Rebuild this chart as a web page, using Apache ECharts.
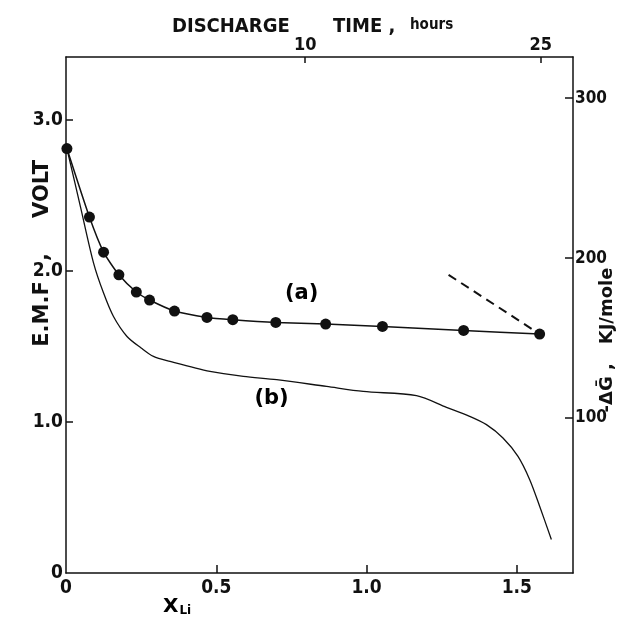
<!DOCTYPE html>
<html>
<head>
<meta charset="utf-8">
<script src="https://cdn.jsdelivr.net/npm/echarts@6/dist/echarts.min.js"></script>
<style>
html,body{margin:0;padding:0;background:#fff;}
#chart{width:629px;height:627px;}
</style>
</head>
<body>
<div id="chart"></div>
<script>
// ---- data ----
// curve (a): measured points, x = X_Li, y = E.M.F (V)
const curveAx = [0.003, 0.078, 0.125, 0.176, 0.234, 0.278, 0.361, 0.469, 0.555, 0.698, 0.864, 1.053, 1.323, 1.576];
const curveAy = [2.81, 2.356, 2.124, 1.974, 1.860, 1.807, 1.734, 1.692, 1.677, 1.659, 1.648, 1.632, 1.606, 1.582];
// curve (b): continuous trace
const curveBx = [0.003, 0.048, 0.092, 0.125, 0.158, 0.203, 0.250, 0.291, 0.346, 0.479, 0.590, 0.701, 0.867, 0.989, 1.166, 1.266, 1.343, 1.399, 1.454, 1.504, 1.543, 1.576, 1.615];
const curveBy = [2.81, 2.426, 2.05, 1.853, 1.698, 1.566, 1.49, 1.434, 1.401, 1.335, 1.302, 1.280, 1.235, 1.202, 1.174, 1.097, 1.037, 0.982, 0.894, 0.772, 0.618, 0.442, 0.222];
// dashed extrapolation line
const dashX = [1.273, 1.576];
const dashY = [1.974, 1.582];
// curve labels
const curveLabels = ['(a)', '(b)'];
const curveLabelX = [0.784, 0.684];
const curveLabelY = [1.85, 1.152];
// axis ticks
const xTicks = [0, 0.5, 1.0, 1.5];
const yTicks = [0, 1, 2, 3];
const timeTicks = [10, 25];
const dgTicks = [100, 200, 300];

const zip = (xs, ys) => xs.map((x, i) => [x, ys[i]]);
const FONT = '"DejaVu Sans", sans-serif';
const CFONT = '"DejaVu Sans Condensed", "DejaVu Sans", sans-serif';
const boldText = (size) => ({ color: '#111', fontFamily: CFONT, fontWeight: 'bold', fontSize: size });

const chart = echarts.init(document.getElementById('chart'), null, { renderer: 'canvas' });

const axisLine = { show: true, onZero: false, lineStyle: { color: '#111', width: 1.5 } };

const option = {
  backgroundColor: '#fff',
  animation: false,
  grid: { left: 66, right: 56, top: 57, bottom: 54, containLabel: false },
  xAxis: [
    {
      type: 'value', position: 'bottom', min: 0, max: 1.687,
      axisLine: axisLine,
      splitLine: { show: false },
      axisTick: { show: true, inside: true, length: 8, lineStyle: { color: '#111', width: 1.5 }, customValues: xTicks.slice(1) },
      axisLabel: { show: true, margin: 6, customValues: xTicks, formatter: v => v === 0 ? '0' : v.toFixed(1), ...boldText(19) }
    },
    {
      type: 'value', position: 'top', min: -5.23, max: 27.05,
      axisLine: axisLine,
      splitLine: { show: false },
      axisTick: { show: true, inside: true, length: 6, lineStyle: { color: '#111', width: 1.5 }, customValues: timeTicks },
      axisLabel: { show: true, margin: 3, customValues: timeTicks, ...boldText(18) }
    }
  ],
  yAxis: [
    {
      type: 'value', position: 'left', min: 0, max: 3.416,
      axisLine: axisLine,
      splitLine: { show: false },
      axisTick: { show: true, inside: true, length: 7, lineStyle: { color: '#111', width: 1.5 }, customValues: yTicks.slice(1) },
      axisLabel: { show: true, margin: 3, customValues: yTicks, formatter: v => v === 0 ? '0' : v.toFixed(1), ...boldText(19) }
    },
    {
      type: 'value', position: 'right', min: 3, max: 325.8,
      axisLine: axisLine,
      splitLine: { show: false },
      axisTick: { show: true, inside: true, length: 8, lineStyle: { color: '#111', width: 1.5 }, customValues: dgTicks },
      axisLabel: { show: true, margin: 2, customValues: dgTicks, ...boldText(17) }
    }
  ],
  series: [
    {
      name: '(b)', type: 'line', xAxisIndex: 0, yAxisIndex: 0,
      data: zip(curveBx, curveBy), showSymbol: false, symbol: 'none', smooth: 0.3,
      lineStyle: { color: '#111', width: 1.3 }
    },
    {
      name: '(a)', type: 'line', xAxisIndex: 0, yAxisIndex: 0,
      data: zip(curveAx, curveAy), symbol: 'circle', symbolSize: 11, smooth: 0.2,
      itemStyle: { color: '#111' },
      lineStyle: { color: '#111', width: 1.5 }
    },
    {
      name: 'dash', type: 'line', xAxisIndex: 0, yAxisIndex: 0,
      data: zip(dashX, dashY), symbol: 'none',
      lineStyle: { color: '#111', width: 2, type: [9, 6] }
    },
    {
      name: 'labels', type: 'scatter', xAxisIndex: 0, yAxisIndex: 0,
      symbolSize: 1,
      itemStyle: { color: 'rgba(0,0,0,0)' },
      data: curveLabels.map((t, i) => ({ value: [curveLabelX[i], curveLabelY[i]], name: t })),
      label: { show: true, position: 'inside', formatter: p => p.name, color: '#000', textBorderWidth: 0, opacity: 1, fontFamily: FONT, fontWeight: 'bold', fontSize: 21 }
    }
  ],
  graphic: [
    {
      type: 'text', x: 172, y: 27,
      style: { text: 'DISCHARGE', verticalAlign: 'middle', textAlign: 'left', fill: '#111', font: 'bold 20px ' + CFONT }
    },
    {
      type: 'text', x: 333, y: 27,
      style: { text: 'TIME ,', verticalAlign: 'middle', textAlign: 'left', fill: '#111', font: 'bold 20px ' + CFONT }
    },
    {
      type: 'text', x: 410, y: 25,
      style: { text: 'hours', verticalAlign: 'middle', textAlign: 'left', fill: '#111', font: 'bold 15px ' + CFONT }
    },
    {
      type: 'text', x: 43, y: 189, rotation: Math.PI / 2,
      style: { text: 'VOLT', textAlign: 'center', verticalAlign: 'middle', fill: '#111', font: 'bold 21px ' + FONT }
    },
    {
      type: 'text', x: 43, y: 257, rotation: Math.PI / 2,
      style: { text: ',', textAlign: 'center', verticalAlign: 'middle', fill: '#111', font: 'bold 21px ' + FONT }
    },
    {
      type: 'text', x: 43, y: 314, rotation: Math.PI / 2,
      style: { text: 'E.M.F', textAlign: 'center', verticalAlign: 'middle', fill: '#111', font: 'bold 21px ' + FONT }
    },
    {
      type: 'text', x: 607, y: 340, rotation: Math.PI / 2,
      style: { text: '-ΔḠ ,   KJ/mole', textAlign: 'center', verticalAlign: 'middle', fill: '#111', font: 'bold 18px ' + FONT }
    },
    {
      type: 'text', x: 163, y: 607,
      style: {
        text: '{x|X}{s|Li}', verticalAlign: 'middle', textAlign: 'left',
        rich: { x: { color: '#111', fontFamily: FONT, fontWeight: 'bold', fontSize: 20 }, s: { color: '#111', fontFamily: FONT, fontWeight: 'bold', fontSize: 12, padding: [8, 0, 0, 1] } }
      }
    }
  ]
};
chart.setOption(option);
</script>
</body>
</html>
